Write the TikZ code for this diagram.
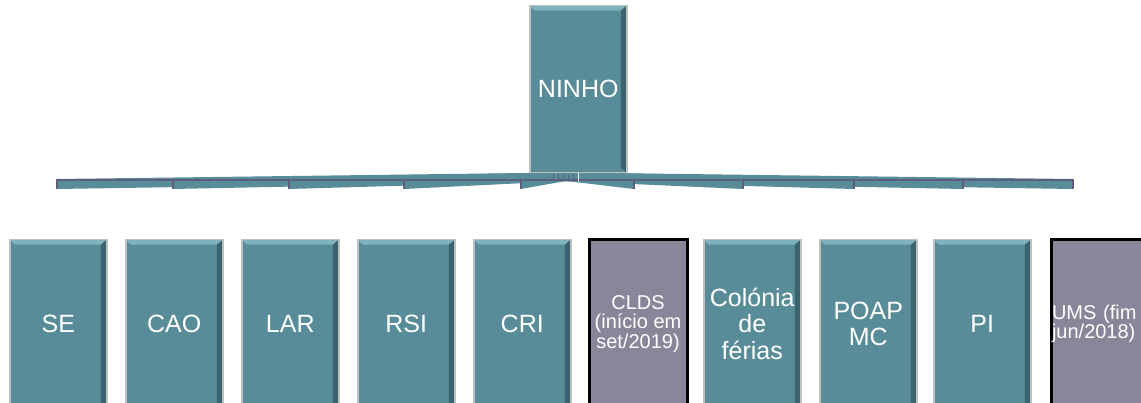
\documentclass[tikz,border=0pt]{standalone}
\usepackage{fontspec}
\setmainfont{Liberation Sans}
\definecolor{boxteal}{RGB}{88,140,152}
\definecolor{bevtop}{RGB}{128,178,189}
\definecolor{bevdark}{RGB}{60,100,110}
\definecolor{edgegrey}{RGB}{192,192,192}
\definecolor{mauve}{RGB}{137,134,153}
\definecolor{slate}{RGB}{92,94,126}
\tikzset{
  unit/.style={anchor=north west, draw=edgegrey, line width=1.5pt, fill=boxteal,
    minimum width=97pt, minimum height=168pt, inner sep=0pt, text=white,
    font=\fontsize{25}{26.5}\selectfont, align=center,
    path picture={
      \fill[bevtop] (path picture bounding box.north west) -- (path picture bounding box.north east)
        -- ++(-6pt,-5pt) -- ([shift={(5pt,-5pt)}]path picture bounding box.north west) -- cycle;
      \fill[bevdark] (path picture bounding box.north east) -- (path picture bounding box.south east)
        -- ++(-6pt,5pt) -- ([shift={(-6pt,-5pt)}]path picture bounding box.north east) -- cycle;
    }},
  closed/.style={anchor=north west, draw=black, line width=3pt, fill=mauve,
    minimum width=98pt, minimum height=168pt, inner sep=0pt, text=white,
    font=\fontsize{20}{19.5}\selectfont, align=center},
  link/.style={fill=boxteal},
  hubline/.style={draw=slate, line width=1.5pt},
}
\begin{document}
\begin{tikzpicture}[x=1pt,y=-1pt]
\clip (0,0) rectangle (1141,403);

\coordinate (hub) at (566,181);
\coordinate (hubtop) at (566,172.5);
\foreach \t/\x in {1/57,2/173,3/289,4/404,5/521,6/634,7/743,8/854,9/963,10/1073}
  \coordinate (tick\t) at (\x,180);

\foreach \t in {1,...,10}
  \fill[link] (hubtop) -- ([yshift=1pt]tick\t) -- ([yshift=-9pt]tick\t) -- (hub) -- cycle;
\draw[hubline] (tick1) -- (tick10);
\foreach \t in {1,...,10}
  \draw[slate, line width=2pt] ([yshift=1pt]tick\t) -- ([yshift=-9pt]tick\t);
\foreach \x in {553,558,...,573}
  \draw[slate, line width=1pt] (\x,174) -- (\x,180);
\draw[white, line width=0.8pt] (578,172) -- (578,181);

\node[unit, minimum height=167pt] (ninho) at (529,5) {NINHO};

\node[unit] (se) at (9,239) {SE};
\node[unit] (cao) at (125,239) {CAO};
\node[unit] (lar) at (241,239) {LAR};
\node[unit] (rsi) at (357,239) {RSI};
\node[unit] (cri) at (473,239) {CRI};
\node[closed] (clds) at (587.5,238.5) {CLDS\\(início em\\set/2019)};
\node[unit] (ferias) at (703,239) {Colónia\\de\\férias};
\node[unit] (poap) at (819,239) {POAP\\MC};
\node[unit] (pi) at (933,239) {PI};
\node[closed, text width=96pt, align=left, inner xsep=1pt] (ums) at (1049.5,238.5) {UMS (fim\\jun/2018)};
\end{tikzpicture}
\end{document}
